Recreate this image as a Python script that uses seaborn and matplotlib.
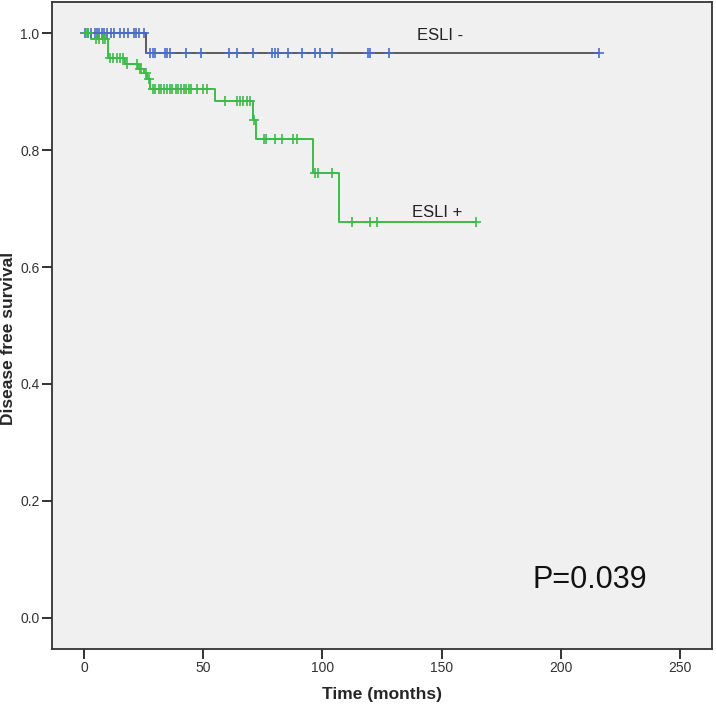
import numpy as np
import pandas as pd
import matplotlib
matplotlib.use("Agg")
import matplotlib.pyplot as plt
import seaborn as sns

# ---- data ----
neg_times = [0, 26.0, 216.0]
neg_surv = [1.0, 0.966, 0.966]
neg_censor = [0.5, 1.5, 3, 4.5, 5.5, 6.5, 7.5, 8.5, 9.5, 11.5, 12.5, 15, 17, 18.5,
              21, 22, 23, 25, 27.7, 29, 30, 34, 35, 36, 43, 49, 61, 64, 71, 79, 80,
              81.5, 85.7, 91.3, 97, 99, 104, 119, 120, 128, 216]

pos_times = [0, 2.8, 10.2, 17.2, 22.8, 25.0, 26.6, 27.7, 55.0, 71.0, 72.1, 96.2, 107.1, 164.4]
pos_surv = [1.0, 0.990, 0.957, 0.947, 0.938, 0.931, 0.921, 0.905, 0.884, 0.851, 0.819,
            0.761, 0.677, 0.677]
pos_censor = [1.0, 1.8, 5, 6.4, 7.8, 8.8, 10.9, 12, 13.7, 15.1, 16.2, 17.9, 22.1, 23.5,
              24.0, 26.0, 27.2, 29, 30, 31.5, 32.5, 33.5, 35, 36, 37, 38.5, 39.5, 40.5,
              42, 43, 44, 45, 47.3, 50, 51.4, 59.1, 64, 65.4, 66.8, 68.2, 69.6, 71.5,
              75.5, 76.3, 80.1, 82.9, 87.8, 89.2, 96.9, 98.3, 103.9, 112.3, 120, 122.8,
              164.4]

groups = ["ESLI -", "ESLI +"]
x_ticks = [0, 50, 100, 150, 200, 250]
y_ticks = [0.0, 0.2, 0.4, 0.6, 0.8, 1.0]
p_text = "P=0.039"

line_colors = {"ESLI -": "#5a5a5a", "ESLI +": "#3dbb4a"}
mark_colors = {"ESLI -": "#4a6cc8", "ESLI +": "#3dbb4a"}


def surv_at(times, surv, t):
    idx = np.searchsorted(np.asarray(times), np.asarray(t), side="right") - 1
    return np.asarray(surv)[idx]


curves = pd.concat([
    pd.DataFrame({"time": neg_times, "surv": neg_surv, "group": groups[0]}),
    pd.DataFrame({"time": pos_times, "surv": pos_surv, "group": groups[1]}),
], ignore_index=True)
marks = pd.concat([
    pd.DataFrame({"time": neg_censor, "surv": surv_at(neg_times, neg_surv, neg_censor), "group": groups[0]}),
    pd.DataFrame({"time": pos_censor, "surv": surv_at(pos_times, pos_surv, pos_censor), "group": groups[1]}),
], ignore_index=True)

sns.set_style("ticks")
plt.rcParams["font.family"] = ["Liberation Sans", "DejaVu Sans"]

fig = plt.figure(figsize=(7.16, 7.19), dpi=100)
ax = fig.add_axes([52 / 716, 1 - 649 / 719, 660 / 716, 647 / 719])
ax.set_facecolor("#f0f0f0")

for g in groups:
    sub = curves[curves.group == g]
    sns.lineplot(data=sub, x="time", y="surv", ax=ax, estimator=None, sort=False,
                 drawstyle="steps-post", color=line_colors[g], linewidth=1.4, legend=False)
for g in groups:
    sub = marks[marks.group == g]
    sns.scatterplot(data=sub, x="time", y="surv", ax=ax, marker="+", s=45,
                    color=mark_colors[g], linewidth=1.2, legend=False, zorder=3)

ax.set_xlim(-13.4, 263.4)
ax.set_ylim(-0.053, 1.053)
ax.set_xticks(x_ticks)
ax.set_xticklabels([str(v) for v in x_ticks])
ax.set_yticks(y_ticks)
ax.set_yticklabels([f"{v:.1f}" for v in y_ticks])
ax.tick_params(axis="both", direction="out", length=7, width=1.3, colors="#222222",
               labelsize=10, labelcolor="#333333", pad=2)
for s in ax.spines.values():
    s.set_color("#333333")
    s.set_linewidth(1.3)

ax.set_xlabel("Time (months)", fontsize=12.5, fontweight="bold", labelpad=8)
ax.set_ylabel("Disease free survival", fontsize=12.5, fontweight="bold")
ax.yaxis.set_label_coords(-0.054, 0.48)

ax.text(139.7, 0.995, groups[0], fontsize=12, va="center", ha="left", color="#222222")
ax.text(137.6, 0.694, groups[1], fontsize=12, va="center", ha="left", color="#222222")
ax.text(188.3, 0.065, p_text, fontsize=22, va="center", ha="left", color="#111111")

fig.savefig("out.png", dpi=100, facecolor="white")
